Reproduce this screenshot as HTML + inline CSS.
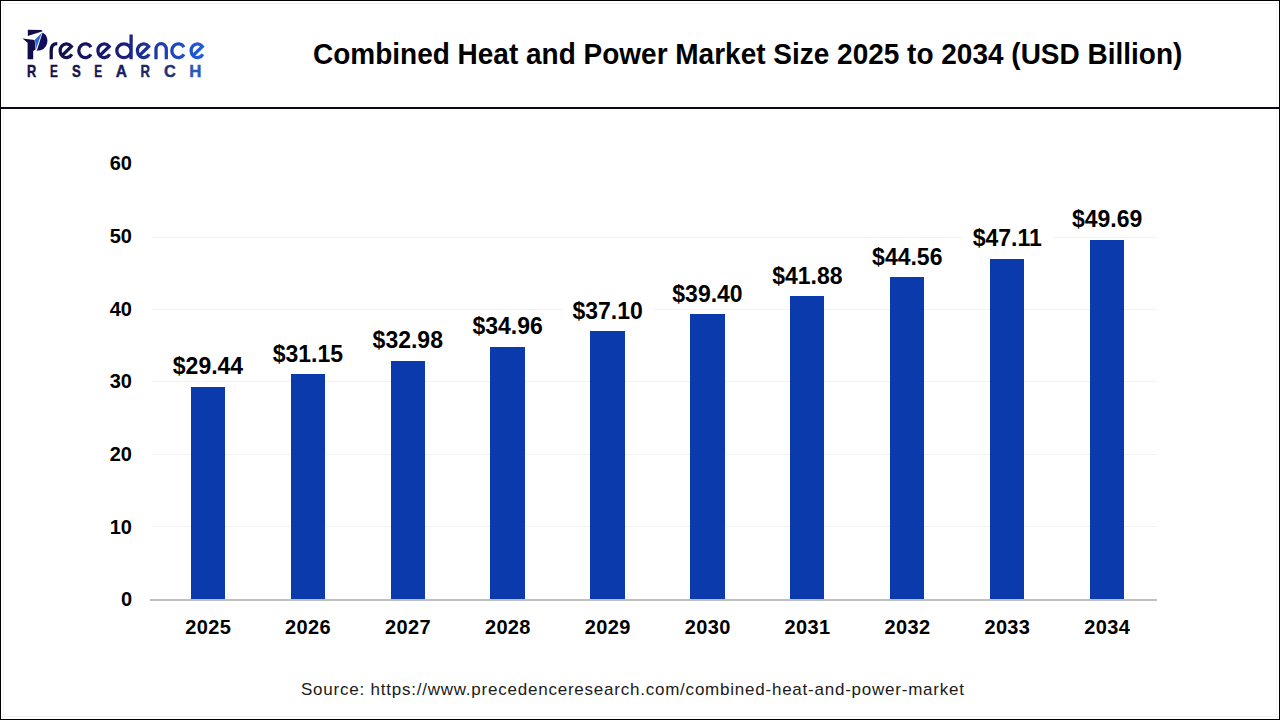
<!DOCTYPE html>
<html><head><meta charset="utf-8"><style>
html,body{margin:0;padding:0;background:#fff;}
#page{position:relative;width:1280px;height:720px;overflow:hidden;background:#fff;font-family:"Liberation Sans",sans-serif;}
.frame{position:absolute;left:0;top:0;border-style:solid;border-color:#000;border-width:1px;box-sizing:border-box;width:1280px;height:720px}
.inner{position:absolute;left:3px;top:3px;width:1274px;height:714px;border:1px solid #f3f3f3;box-sizing:border-box}
.sep{position:absolute;left:0;top:107px;width:1280px;height:2px;background:#0a0820}
.logo{position:absolute;left:0;top:0}
.title{position:absolute;left:313px;top:37.5px;font-weight:bold;font-size:29px;transform:scaleX(0.965);transform-origin:0 0;color:#000;white-space:nowrap}
.grid{position:absolute;left:152px;width:1004px;height:1px;background:#f2f2f2}
.axis{position:absolute;left:149.5px;top:599px;width:1007px;height:1.5px;background:#bfbfbf}
.ylab{position:absolute;left:80px;width:52px;text-align:right;font-weight:bold;font-size:20px;line-height:22px;color:#000}
.bar{position:absolute;width:34.4px;background:#0a3aac}
.dlab{position:absolute;width:91px;background:#fff;text-align:center;font-weight:bold;font-size:23px;line-height:26px;color:#000}
.xlab{position:absolute;top:616px;width:100px;text-align:center;font-weight:bold;font-size:20px;line-height:22px;color:#000;letter-spacing:0.35px;text-indent:0.35px}
.src{position:absolute;left:301px;top:680px;font-size:17px;color:#1a1a1a;white-space:nowrap;letter-spacing:0.77px}
</style></head><body><div id="page">
<div class="inner"></div>
<div class="frame"></div>
<div class="sep"></div>
<svg class="logo" width="230" height="100" viewBox="0 0 230 100">
<defs>
<linearGradient id="lg" x1="50" y1="0" x2="206" y2="0" gradientUnits="userSpaceOnUse">
<stop offset="0" stop-color="#120e44"/><stop offset="0.45" stop-color="#1a1d78"/><stop offset="1" stop-color="#2160e0"/></linearGradient>
<linearGradient id="lg2" x1="27" y1="0" x2="201" y2="0" gradientUnits="userSpaceOnUse">
<stop offset="0" stop-color="#15124e"/><stop offset="0.5" stop-color="#1a2070"/><stop offset="1" stop-color="#2a5cc8"/></linearGradient>
</defs>
<path d="M27.8,29.7 L41.5,29.9 L42.6,31.3 L27.8,36 Z" fill="#120c4a"/>
<path d="M22.5,38.5 L34.6,40 L35.6,49.5 L33.2,51 L33.2,59.3 L27.6,59.3 L27.6,42.8 Z" fill="#120c4a"/>
<path d="M34.9,39.8 L42,32.4 L35.9,49.3 Z" fill="#2c6ad4"/>
<path d="M42.6,32.4 Q48.5,36 47.2,43 Q45.5,50.6 36.8,50.8 Z" fill="#120c5a"/>
<path d="M51.2,59.2 V50.5 Q51.2,43.7 57.3,43.7 M61.95,55.59 L71.36,46.53 A6.3 6.85 0 1 0 71.86,54.17 M91.00,47.12 A6.6 6.85 0 1 0 91.00,54.38 M99.75,55.59 L109.16,46.53 A6.3 6.85 0 1 0 109.66,54.17 M131.1,34.6 V59.2 M131.1,50.75 A7.15 6.85 0 1 0 116.8,50.75 A7.15 6.85 0 1 0 131.1,50.75 M139.25,55.59 L148.66,46.53 A6.3 6.85 0 1 0 149.16,54.17 M156,59.2 V49.2 A5.15 5.5 0 0 1 166.3,49.2 V59.2 M184.00,47.12 A6.6 6.85 0 1 0 184.00,54.38 M192.95,55.59 L202.36,46.53 A6.3 6.85 0 1 0 202.86,54.17" fill="none" stroke="url(#lg)" stroke-width="3.3"/>
<g style="font-family:'Liberation Sans',sans-serif;font-size:16.5px;font-weight:bold" stroke-width="0.45"><text transform="translate(26.90,77) scale(0.773,1)" fill="#16124a" stroke="#16124a">R</text><text transform="translate(50.06,77) scale(0.713,1)" fill="#16124a" stroke="#16124a">E</text><text transform="translate(72.07,77) scale(0.799,1)" fill="#17144c" stroke="#17144c">S</text><text transform="translate(94.26,77) scale(0.713,1)" fill="#181850" stroke="#181850">E</text><text transform="translate(115.86,77) scale(0.939,1)" fill="#1a1e5a" stroke="#1a1e5a">A</text><text transform="translate(140.38,77) scale(0.792,1)" fill="#1c2666" stroke="#1c2666">R</text><text transform="translate(163.98,77) scale(0.992,1)" fill="#1f3276" stroke="#1f3276">C</text><text transform="translate(189.32,77) scale(1.021,1)" fill="#2a56b8" stroke="#2a56b8">H</text></g>
</svg>
<div class="title">Combined Heat and Power Market Size 2025 to 2034 (USD Billion)</div>
<div class="grid" style="top:526.2px"></div>
<div class="grid" style="top:453.8px"></div>
<div class="grid" style="top:381.4px"></div>
<div class="grid" style="top:309.0px"></div>
<div class="grid" style="top:236.6px"></div>
<div class="ylab" style="top:588.4px">0</div>
<div class="ylab" style="top:515.7px">10</div>
<div class="ylab" style="top:443.0px">20</div>
<div class="ylab" style="top:370.3px">30</div>
<div class="ylab" style="top:297.6px">40</div>
<div class="ylab" style="top:225.0px">50</div>
<div class="ylab" style="top:152.3px">60</div>
<div class="bar" style="left:190.70px;top:386.5px;height:213.1px"></div>
<div class="dlab" style="left:162.5px;top:353.0px">$29.44</div>
<div class="xlab" style="left:158.0px">2025</div>
<div class="bar" style="left:290.60px;top:374.1px;height:225.5px"></div>
<div class="dlab" style="left:262.4px;top:340.6px">$31.15</div>
<div class="xlab" style="left:257.9px">2026</div>
<div class="bar" style="left:390.50px;top:360.8px;height:238.8px"></div>
<div class="dlab" style="left:362.3px;top:327.3px">$32.98</div>
<div class="xlab" style="left:357.8px">2027</div>
<div class="bar" style="left:490.40px;top:346.5px;height:253.1px"></div>
<div class="dlab" style="left:462.2px;top:313.0px">$34.96</div>
<div class="xlab" style="left:457.7px">2028</div>
<div class="bar" style="left:590.30px;top:331.0px;height:268.6px"></div>
<div class="dlab" style="left:562.1px;top:297.5px">$37.10</div>
<div class="xlab" style="left:557.6px">2029</div>
<div class="bar" style="left:690.20px;top:314.3px;height:285.3px"></div>
<div class="dlab" style="left:662.0px;top:280.8px">$39.40</div>
<div class="xlab" style="left:657.5px">2030</div>
<div class="bar" style="left:790.10px;top:296.4px;height:303.2px"></div>
<div class="dlab" style="left:761.9px;top:262.9px">$41.88</div>
<div class="xlab" style="left:757.4px">2031</div>
<div class="bar" style="left:890.00px;top:277.0px;height:322.6px"></div>
<div class="dlab" style="left:861.8px;top:243.5px">$44.56</div>
<div class="xlab" style="left:857.3px">2032</div>
<div class="bar" style="left:989.90px;top:258.5px;height:341.1px"></div>
<div class="dlab" style="left:961.7px;top:225.0px">$47.11</div>
<div class="xlab" style="left:957.2px">2033</div>
<div class="bar" style="left:1089.80px;top:239.8px;height:359.8px"></div>
<div class="dlab" style="left:1061.6px;top:206.3px">$49.69</div>
<div class="xlab" style="left:1057.1px">2034</div>
<div class="axis"></div>
<div class="src">Source: https://www.precedenceresearch.com/combined-heat-and-power-market</div>
</div></body></html>
